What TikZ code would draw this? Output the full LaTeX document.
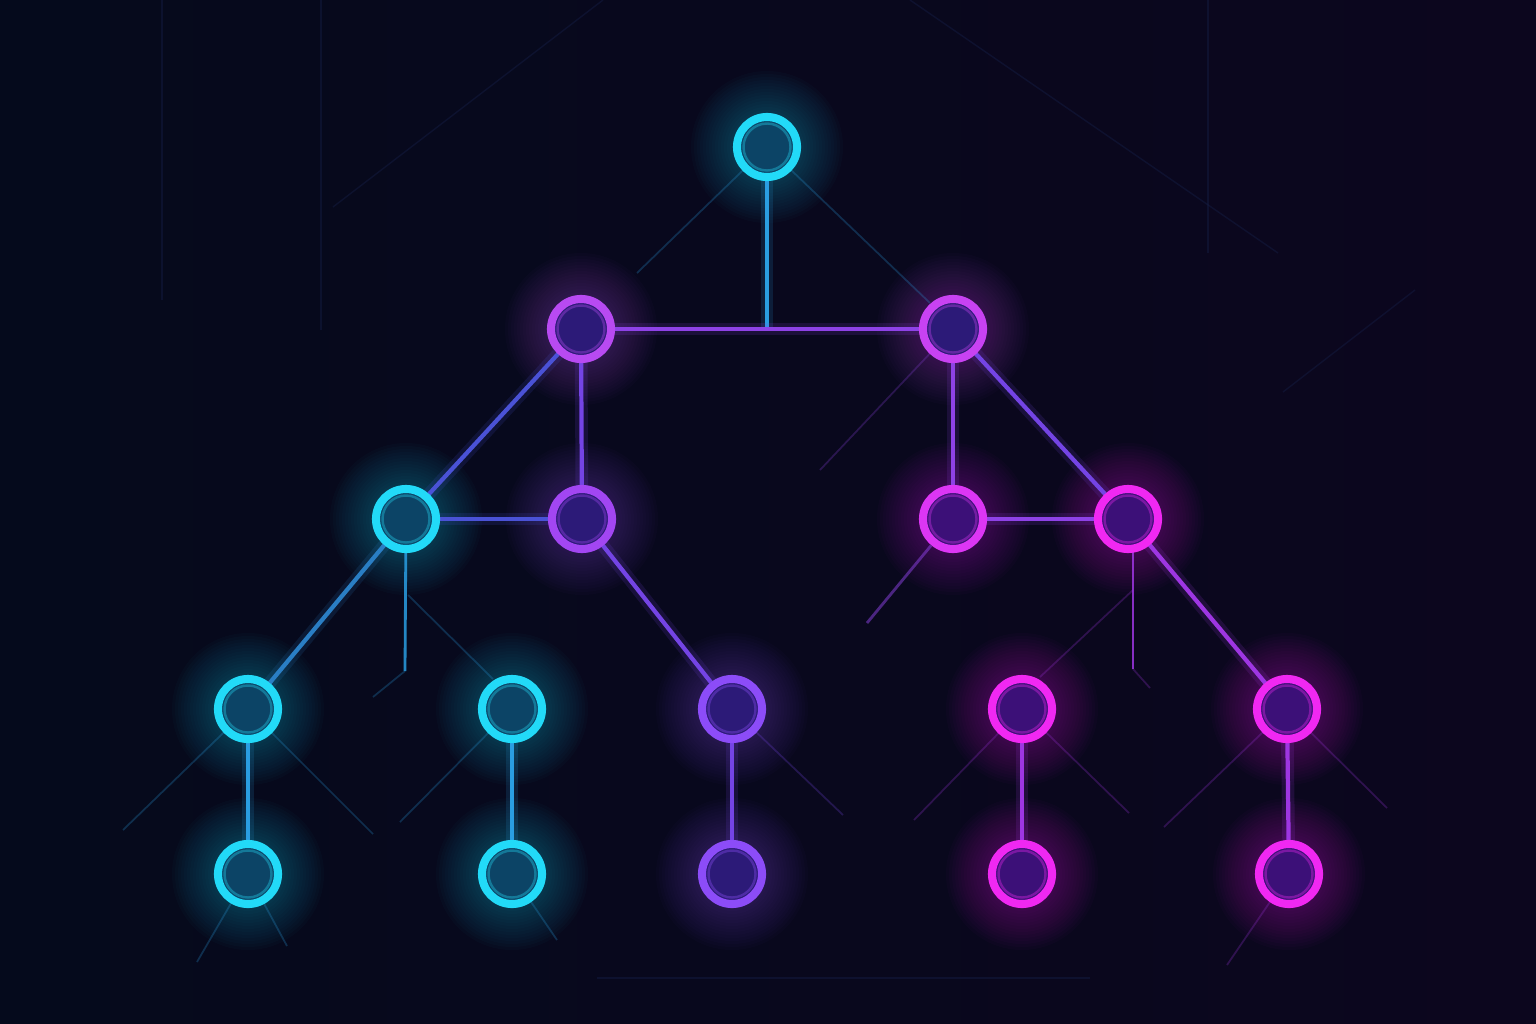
\documentclass[tikz,border=0pt]{standalone}
\usetikzlibrary{positioning}

\pgfdeclarelayer{back}
\pgfdeclarelayer{wires}
\pgfsetlayers{back,wires,main}

\definecolor{bgleft}{HTML}{050A1C}
\definecolor{bgright}{HTML}{0C061E}
\definecolor{hazeline}{HTML}{16204A}
\definecolor{cyanring}{HTML}{22DAF8}
\definecolor{tealfill}{HTML}{0C4466}
\definecolor{violetring}{HTML}{8C4CF8}
\definecolor{purplering}{HTML}{A246F2}
\definecolor{orchidring}{HTML}{B84AF2}
\definecolor{orchidringb}{HTML}{C842F2}
\definecolor{pinkring}{HTML}{DC36F4}
\definecolor{magentaring}{HTML}{F028F2}
\definecolor{indigofill}{HTML}{2C1A78}
\definecolor{plumfill}{HTML}{3C1078}
\definecolor{wirecyan}{HTML}{2A9EE2}
\definecolor{wiresteel}{HTML}{2A7EC4}
\definecolor{wireblue}{HTML}{4A52D6}
\definecolor{wireviolet}{HTML}{7444E4}
\definecolor{wirepurple}{HTML}{8E42E6}
\definecolor{wiremag}{HTML}{9E36E2}

\tikzset{
  ringnode/.style={circle,minimum size=0.6cm,inner sep=0pt,line width=2.3pt},
  wire/.style={draw=#1,line width=1.2pt,preaction={draw=#1,line width=3.6pt,opacity=0.15}},
  thinwire/.style={draw=#1,line width=0.8pt,opacity=0.85},
  dimwire/.style={draw=#1,line width=0.8pt,opacity=0.5},
  faint/.style={draw=#1,line width=0.5pt,opacity=0.25},
  haze/.style={draw=hazeline,line width=0.4pt,opacity=0.4}
}

\begin{document}
\begin{tikzpicture}[x=0.01cm,y=-0.01cm]
\useasboundingbox (0,0) rectangle (1536,1024);

% background and far lines
\begin{pgfonlayer}{back}
  \shade[left color=bgleft,right color=bgright] (0,0) rectangle (1536,1024);
  \draw[haze] (162,0) -- (162,300);
  \draw[haze] (321,0) -- (321,330);
  \draw[haze] (1208,0) -- (1208,253);
  \draw[haze] (333,207) -- (603,0);
  \draw[haze] (910,0) -- (1278,253);
  \draw[haze] (1415,290) -- (1283,392);
  \draw[haze] (597,978) -- (1090,978);
\end{pgfonlayer}

% nodes with glow
\foreach \nm/\px/\py/\rc/\fc in {
  t/767/147/cyanring/tealfill,
  m1/581/329/orchidring/indigofill,
  m2/953/329/orchidringb/indigofill,
  c1/406/519/cyanring/tealfill,
  c2/582/519/purplering/indigofill,
  c3/953/519/pinkring/plumfill,
  c4/1128/519/magentaring/plumfill,
  d1/248/709/cyanring/tealfill,
  d2/512/709/cyanring/tealfill,
  d3/732/709/violetring/indigofill,
  d4/1022/709/magentaring/plumfill,
  d5/1287/709/magentaring/plumfill,
  e1/248/874/cyanring/tealfill,
  e2/512/874/cyanring/tealfill,
  e3/732/874/violetring/indigofill,
  e4/1022/874/magentaring/plumfill,
  e5/1289/874/magentaring/plumfill}
{
  \begin{pgfonlayer}{back}
    \foreach \g in {1,...,14}
      \fill[\rc,opacity=0.018] (\px,\py) circle ({0.34cm+\g*0.03cm});
  \end{pgfonlayer}
  \node[ringnode,draw=\rc,fill=\fc] (\nm) at (\px,\py) {};
  \draw[\rc!35!\fc,line width=0.7pt] (\nm.center) circle (0.235cm);
}

\begin{pgfonlayer}{wires}
  % tree links
  \coordinate (tfoot) at (t |- m1);
  \draw[wire=wirecyan] (t.center) -- (tfoot);
  \draw[wire=wirepurple] (m1.center) -- (m2.center);
  \draw[wire=wireblue] (m1.center) -- (c1.center);
  \draw[wire=wireviolet] (m1.center) -- (c2.center);
  \draw[wire=wireblue] (c1.center) -- (c2.center);
  \draw[wire=wirepurple] (m2.center) -- (c3.center);
  \draw[wire=wireviolet] (m2.center) -- (c4.center);
  \draw[wire=wirepurple] (c3.center) -- (c4.center);
  \draw[wire=wiresteel] (c1.center) -- (d1.center);
  \draw[wire=wireviolet] (c2.center) -- (d3.center);
  \draw[wire=wiremag] (c4.center) -- (d5.center);
  \draw[wire=wirecyan] (d1.center) -- (e1.center);
  \draw[wire=wirecyan] (d2.center) -- (e2.center);
  \draw[wire=wireviolet] (d3.center) -- (e3.center);
  \draw[wire=wiremag] (d4.center) -- (e4.center);
  \draw[wire=wiremag] (d5.center) -- (e5.center);

  % stubs
  \coordinate (c1foot) at (405,671);
  \coordinate (c4foot) at (1133,669);
  \draw[thinwire=wirecyan] (c1.center) -- (c1foot);
  \draw[thinwire=wiremag] (c4.center -| c4foot) -- (c4foot);
  \coordinate (c1mid) at (408,595);
  \coordinate (c1tip) at (493,679);
  \coordinate (c4mid) at (1133,590);
  \coordinate (c4tip) at (1040,677);
  \coordinate (c3tip) at (867,623);
  \draw[faint=wirecyan] (c1mid) -- (c1tip);
  \draw[faint=wiremag] (c4mid) -- (c4tip);
  \draw[dimwire=wirepurple] (c3) -- (c3tip);
  \coordinate (c1end) at (373,697);
  \coordinate (c4end) at (1150,688);
  \draw[faint=wirecyan] (c1foot) -- (c1end);
  \draw[faint=wiremag] (c4foot) -- (c4end);

  % faint rays
  \foreach \src/\qx/\qy/\lc in {
    t/637/273/wirecyan, t/930/303/wirecyan, m2/820/470/wirepurple,
    d1/123/830/wirecyan, d1/373/834/wirecyan, d2/400/822/wirecyan,
    d3/843/815/wireviolet, d4/914/820/wiremag, d4/1129/813/wiremag,
    d5/1164/827/wiremag, d5/1387/808/wiremag, e1/197/962/wirecyan,
    e1/287/946/wirecyan, e2/557/940/wirecyan, e5/1227/965/wiremag}
  {
    \coordinate (tip) at (\qx,\qy);
    \draw[faint=\lc] (\src) -- (tip);
  }
\end{pgfonlayer}
\end{tikzpicture}
\end{document}
